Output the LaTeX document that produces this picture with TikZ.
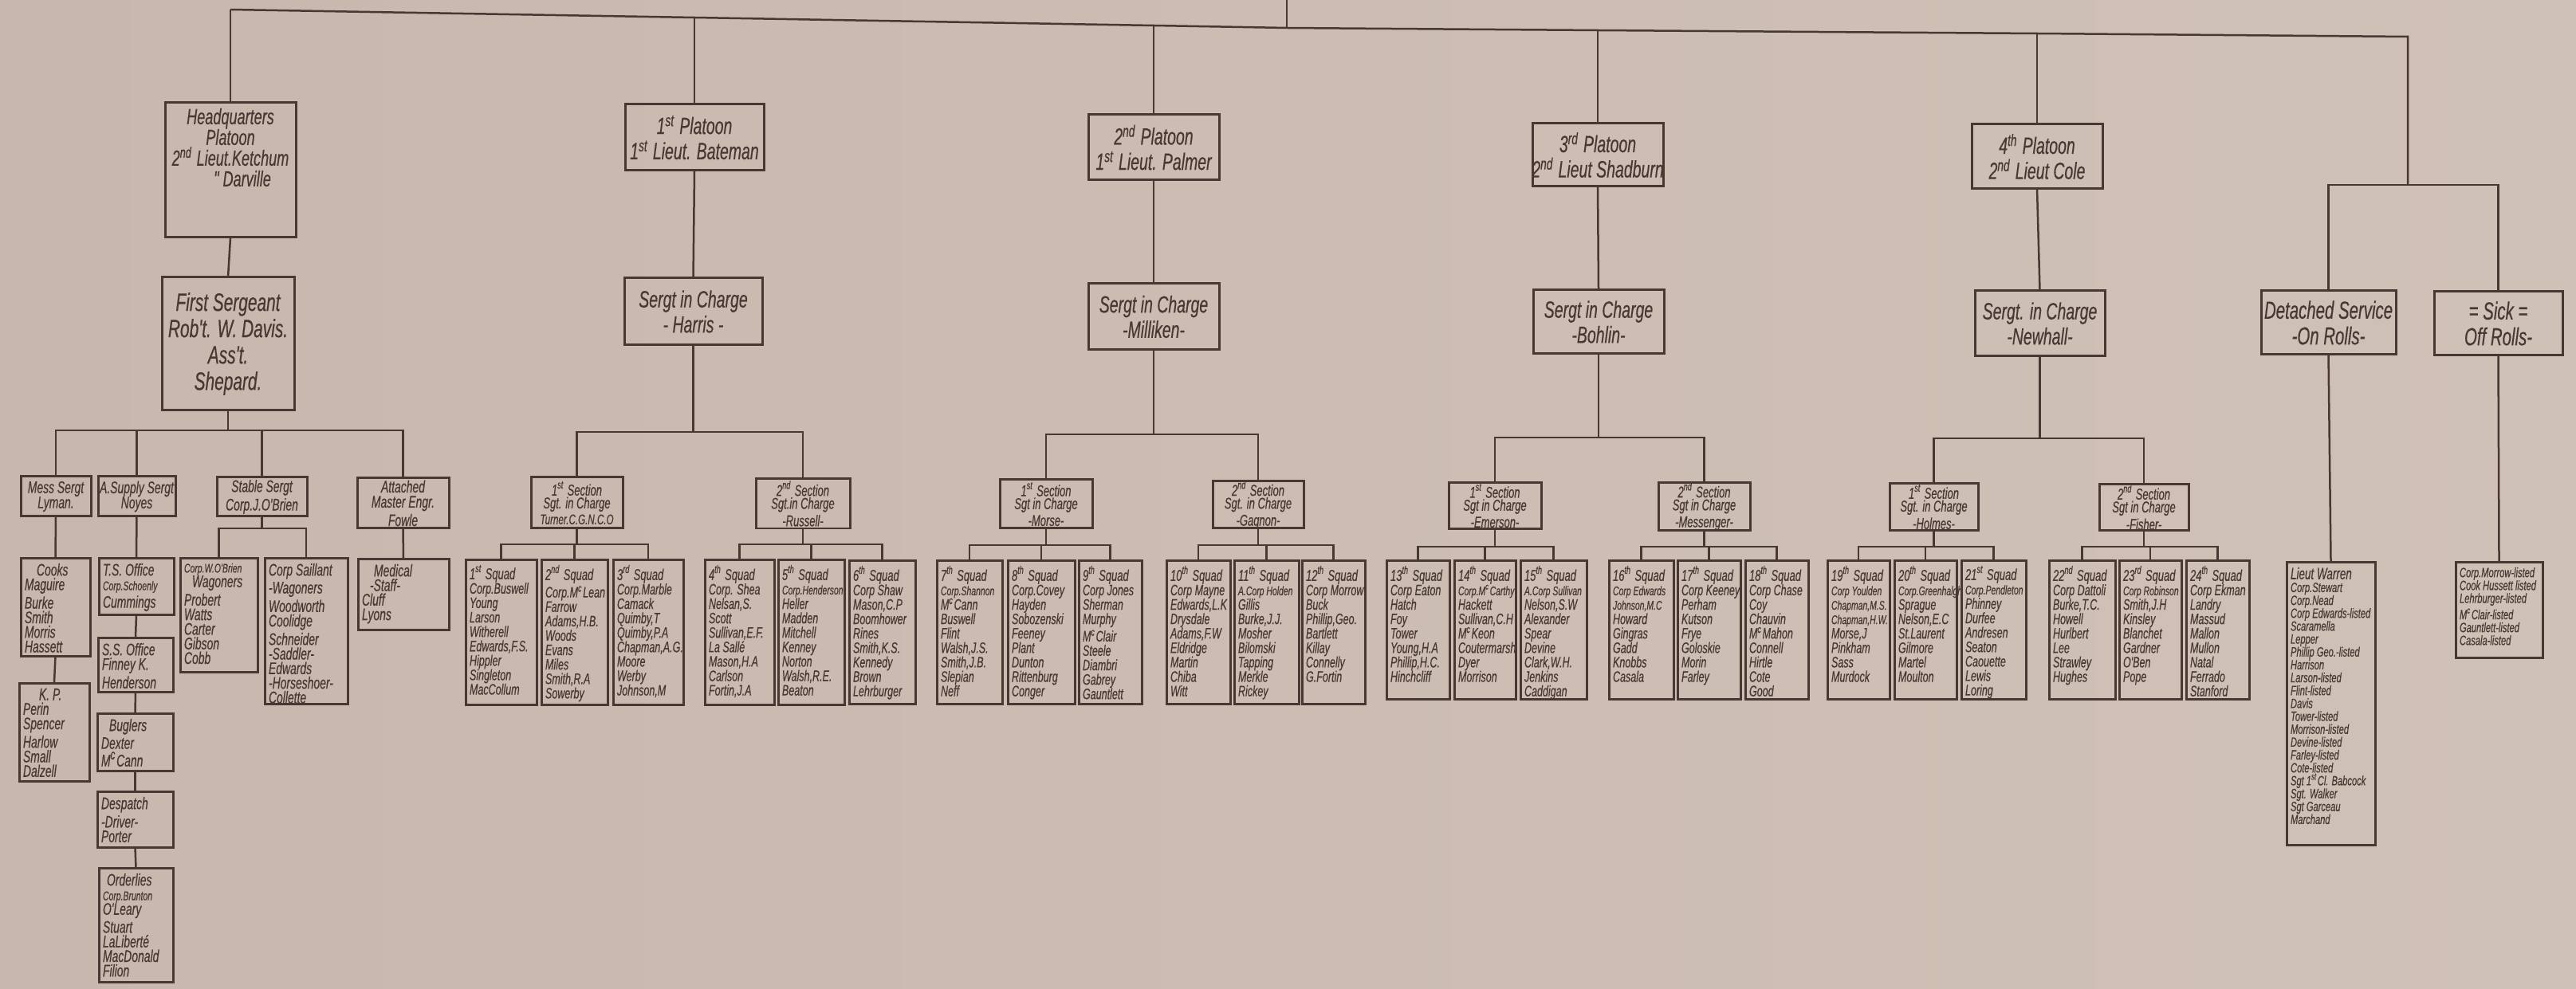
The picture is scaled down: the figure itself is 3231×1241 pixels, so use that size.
\documentclass[tikz,border=0pt]{standalone}
\usepackage{fontspec}
\newfontfamily\handfont{Liberation Sans}[FakeStretch=0.66, FakeBold=0.4]
\definecolor{ink}{RGB}{72,56,52}
\definecolor{paperL}{RGB}{200,183,172}
\definecolor{paperM}{RGB}{217,206,195}
\definecolor{paperR}{RGB}{208,193,182}
\setlength{\lineskiplimit}{-4pt}

% boite a texte centre / boite a liste (coin haut gauche, coin bas droit en px)
\newcommand{\headbox}[7][]{%
  \pgfmathsetmacro{\bw}{(#5-#3)/10}%
  \pgfmathsetmacro{\bh}{(#6-#4)/10}%
  \node[unit, #1, anchor=north west] (#2) at (#3,#4)
    {\parbox[c][\bh mm][c]{\bw mm}{\centering\leftskip=-1cm plus 1fil\rightskip=-1cm plus 1fil #7\par}};}
\newcommand{\rollbox}[7][]{%
  \pgfmathsetmacro{\bw}{(#5-#3)/10}%
  \pgfmathsetmacro{\bh}{(#6-#4)/10}%
  \node[unit, #1, anchor=north west] (#2) at (#3,#4)
    {\parbox[c][\bh mm][t]{\bw mm}{\raggedright\leftskip=0.5mm\rightskip=-1cm plus 1fil\vspace{0.7mm}#7\par}};}
\newcommand{\squeeze}[1]{{\fontsize{4.5}{4}\selectfont #1}}
\newcommand{\sqd}[2]{\mbox{\fontsize{5.6}{5}\selectfont #1\textsuperscript{#2} Squad}}

\begin{document}
\begin{tikzpicture}[x=0.1mm, y=-0.1mm,
  unit/.style={draw=ink, line width=0.3mm, inner sep=0pt, outer sep=0pt, text=ink},
  link/.style={draw=ink, line width=0.25mm},
  hqf/.style={font=\handfont\itshape\fontsize{7.8}{7.4}\selectfont},
  fsf/.style={font=\handfont\itshape\fontsize{9}{9.4}\selectfont},
  rowf/.style={font=\handfont\itshape\fontsize{6}{5.4}\selectfont},
  lf/.style={font=\handfont\itshape\fontsize{6}{5.2}\selectfont},
  platf/.style={font=\handfont\itshape\fontsize{8.4}{9}\selectfont},
  secf/.style={font=\handfont\itshape\fontsize{5.6}{4.6}\selectfont},
  squadf/.style={font=\handfont\itshape\fontsize{5.4}{5.15}\selectfont},
  bigf/.style={font=\handfont\itshape\fontsize{8.8}{9.2}\selectfont},
  listf/.style={font=\handfont\itshape\fontsize{4.8}{4.6}\selectfont}]

\useasboundingbox (0,0) rectangle (3231,1241);
\shade[left color=paperL, middle color=paperM, right color=paperR] (0,0) rectangle (3231,1241);

% Headquarters
\rollbox[hqf]{hq}{207}{129}{371}{298}{\centering Headquarters\\Platoon\\2\textsuperscript{nd} Lieut.Ketchum\\\hspace*{3mm}" Darville}
\headbox[fsf]{fs}{203}{348}{369}{515}{First Sergeant\\Rob't. W. Davis.\\Ass't.\\Shepard.}
\headbox[rowf]{mess}{26}{598}{114}{648}{Mess Sergt\\Lyman.}
\headbox[rowf]{supply}{123}{598}{220}{648}{A.Supply Sergt\\Noyes}
\headbox[rowf]{stable}{272}{599}{385}{648}{Stable Sergt\\Corp.J.O'Brien}
\headbox[rowf]{attached}{448}{600}{563}{663}{Attached\\Master Engr.\\Fowle}
\rollbox[lf]{cooks}{26}{700}{113}{823}{\hspace*{1.5mm}Cooks\\Maguire\\Burke\\Smith\\Morris\\Hassett}
\rollbox[lf]{kp}{24}{857}{112}{980}{\hspace*{2mm}K. P.\\Perin\\Spencer\\Harlow\\Small\\Dalzell}
\rollbox[lf]{tso}{124}{700}{218}{771}{T.S. Office\\\squeeze{Corp.Schoenly}\\Cummings}
\rollbox[lf]{sso}{123}{800}{217}{868}{S.S. Office\\Finney K.\\Henderson}
\rollbox[lf]{bugl}{122}{895}{217}{967}{\hspace*{1mm}Buglers\\Dexter\\M\textsuperscript{c}Cann}
\rollbox[lf]{desp}{122}{993}{217}{1063}{Despatch\\-Driver-\\Porter}
\rollbox[lf]{ord}{124}{1089}{217}{1232}{\hspace*{0.5mm}Orderlies\\\squeeze{Corp.Brunton}\\O'Leary\\Stuart\\LaLiberté\\MacDonald\\Filion}
\rollbox[lf]{wob}{226}{700}{323}{843}{\squeeze{Corp.W.O'Brien}\\\hspace*{1mm}Wagoners\\Probert\\Watts\\Carter\\Gibson\\Cobb}
\rollbox[lf]{sai}{332}{700}{436}{883}{Corp Saillant\\-Wagoners\\Woodworth\\Coolidge\\Schneider\\-Saddler-\\Edwards\\-Horseshoer-\\Collette}
\rollbox[lf]{med}{449}{701}{563}{790}{\hspace*{1.5mm}Medical\\\hspace*{1mm}-Staff-\\Cluff\\Lyons}

% Platoons
\headbox[platf]{pl1}{784}{131}{958}{214}{1\textsuperscript{st} Platoon\\1\textsuperscript{st} Lieut. Bateman}
\headbox[platf]{pl2}{1365}{144}{1529}{226}{2\textsuperscript{nd} Platoon\\1\textsuperscript{st} Lieut. Palmer}
\headbox[platf]{pl3}{1922}{155}{2086}{234}{3\textsuperscript{rd} Platoon\\2\textsuperscript{nd} Lieut Shadburn}
\headbox[platf]{pl4}{2473}{156}{2637}{237}{4\textsuperscript{th} Platoon\\2\textsuperscript{nd} Lieut Cole}
\headbox[platf]{sg1}{783}{349}{956}{433}{Sergt in Charge\\- Harris -}
\headbox[platf]{sg2}{1365}{356}{1529}{439}{Sergt in Charge\\-Milliken-}
\headbox[platf]{sg3}{1923}{364}{2087}{444}{Sergt in Charge\\-Bohlin-}
\headbox[platf]{sg4}{2477}{365}{2640}{447}{Sergt. in Charge\\-Newhall-}

% Sections
\headbox[secf]{sec1}{666}{599}{781}{663}{1\textsuperscript{st} Section\\Sgt. in Charge\\{\fontsize{5}{4.6}\selectfont Turner.C.G.N.C.O}}
\headbox[secf]{sec2}{948}{601}{1066}{663}{2\textsuperscript{nd} Section\\Sgt.in Charge\\-Russell-}
\headbox[secf]{sec3}{1254}{602}{1370}{663}{1\textsuperscript{st} Section\\Sgt in Charge\\-Morse-}
\headbox[secf]{sec4}{1521}{604}{1635}{663}{2\textsuperscript{nd} Section\\Sgt. in Charge\\-Gagnon-}
\headbox[secf]{sec5}{1817}{606}{1933}{663}{1\textsuperscript{st} Section\\Sgt in Charge\\-Emerson-}
\headbox[secf]{sec6}{2080}{606}{2195}{665}{2\textsuperscript{nd} Section\\Sgt in Charge\\-Messenger-}
\headbox[secf]{sec7}{2370}{607}{2481}{665}{1\textsuperscript{st} Section\\Sgt. in Charge\\-Holmes-}
\headbox[secf]{sec8}{2633}{608}{2745}{665}{2\textsuperscript{nd} Section\\Sgt in Charge\\-Fisher-}

% Squads
\rollbox[squadf]{sq1}{584}{702}{673}{884}{\sqd{1}{st}\\Corp.Buswell\\Young\\Larson\\Witherell\\Edwards,F.S.\\Hippler\\Singleton\\MacCollum}
\rollbox[squadf]{sq2}{679}{702}{762}{884}{\sqd{2}{nd}\\Corp.M\textsuperscript{c}Lean\\Farrow\\Adams,H.B.\\Woods\\Evans\\Miles\\Smith,R.A\\Sowerby}
\rollbox[squadf]{sq3}{769}{702}{857}{884}{\sqd{3}{rd}\\Corp.Marble\\Camack\\Quimby,T\\Quimby,P.A\\Chapman,A.G.\\Moore\\Werby\\Johnson,M}
\rollbox[squadf]{sq4}{884}{702}{971}{884}{\sqd{4}{th}\\Corp. Shea\\Nelsan,S.\\Scott\\Sullivan,E.F.\\La Sallé\\Mason,H.A\\Carlson\\Fortin,J.A}
\rollbox[squadf]{sq5}{976}{702}{1059}{884}{\sqd{5}{th}\\\squeeze{Corp.Henderson}\\Heller\\Madden\\Mitchell\\Kenney\\Norton\\Walsh,R.E.\\Beaton}
\rollbox[squadf]{sq6}{1065}{703}{1148}{883}{\sqd{6}{th}\\Corp Shaw\\Mason,C.P\\Boomhower\\Rines\\Smith,K.S.\\Kennedy\\Brown\\Lehrburger}
\rollbox[squadf]{sq7}{1175}{703}{1257}{883}{\sqd{7}{th}\\\squeeze{Corp.Shannon}\\M\textsuperscript{c}Cann\\Buswell\\Flint\\Walsh,J.S.\\Smith,J.B.\\Slepian\\Neff}
\rollbox[squadf]{sq8}{1264}{703}{1348}{883}{\sqd{8}{th}\\Corp.Covey\\Hayden\\Sobozenski\\Feeney\\Plant\\Dunton\\Rittenburg\\Conger}
\rollbox[squadf]{sq9}{1353}{703}{1432}{883}{\sqd{9}{th}\\Corp Jones\\Sherman\\Murphy\\M\textsuperscript{c}Clair\\Steele\\Diambri\\Gabrey\\Gauntlett}
\rollbox[squadf]{sq10}{1463}{703}{1543}{883}{\sqd{10}{th}\\Corp Mayne\\Edwards,L.K\\Drysdale\\Adams,F.W\\Eldridge\\Martin\\Chiba\\Witt}
\rollbox[squadf]{sq11}{1548}{703}{1629}{883}{\sqd{11}{th}\\\squeeze{A.Corp Holden}\\Gillis\\Burke,J.J.\\Mosher\\Bilomski\\Tapping\\Merkle\\Rickey}
\rollbox[squadf]{sq12}{1633}{703}{1712}{883}{\sqd{12}{th}\\Corp Morrow\\Buck\\Phillip,Geo.\\Bartlett\\Killay\\Connelly\\G.Fortin}
\rollbox[squadf]{sq13}{1739}{703}{1818}{877}{\sqd{13}{th}\\Corp Eaton\\Hatch\\Foy\\Tower\\Young,H.A\\Phillip,H.C.\\Hinchcliff}
\rollbox[squadf]{sq14}{1824}{703}{1901}{877}{\sqd{14}{th}\\\squeeze{Corp.M\textsuperscript{c}Carthy}\\Hackett\\Sullivan,C.H\\M\textsuperscript{c}Keon\\Coutermarsh\\Dyer\\Morrison}
\rollbox[squadf]{sq15}{1907}{703}{1990}{877}{\sqd{15}{th}\\\squeeze{A.Corp Sullivan}\\Nelson,S.W\\Alexander\\Spear\\Devine\\Clark,W.H.\\Jenkins\\Caddigan}
\rollbox[squadf]{sq16}{2018}{703}{2099}{877}{\sqd{16}{th}\\\squeeze{Corp Edwards}\\\squeeze{Johnson,M.C}\\Howard\\Gingras\\Gadd\\Knobbs\\Casala}
\rollbox[squadf]{sq17}{2104}{703}{2183}{877}{\sqd{17}{th}\\Corp Keeney\\Perham\\Kutson\\Frye\\Goloskie\\Morin\\Farley}
\rollbox[squadf]{sq18}{2189}{703}{2268}{877}{\sqd{18}{th}\\Corp Chase\\Coy\\Chauvin\\M\textsuperscript{c}Mahon\\Connell\\Hirtle\\Cote\\Good}
\rollbox[squadf]{sq19}{2292}{703}{2370}{877}{\sqd{19}{th}\\\squeeze{Corp Youlden}\\\squeeze{Chapman,M.S.}\\\squeeze{Chapman,H.W.}\\Morse,J\\Pinkham\\Sass\\Murdock}
\rollbox[squadf]{sq20}{2376}{703}{2454}{877}{\sqd{20}{th}\\\squeeze{Corp.Greenhalgh}\\Sprague\\Nelson,E.C\\St.Laurent\\Gilmore\\Martel\\Moulton}
\rollbox[squadf]{sq21}{2460}{703}{2541}{877}{\sqd{21}{st}\\\squeeze{Corp.Pendleton}\\Phinney\\Durfee\\Andresen\\Seaton\\Caouette\\Lewis\\Loring}
\rollbox[squadf]{sq22}{2570}{703}{2653}{877}{\sqd{22}{nd}\\Corp Dattoli\\Burke,T.C.\\Howell\\Hurlbert\\Lee\\Strawley\\Hughes}
\rollbox[squadf]{sq23}{2658}{703}{2736}{877}{\sqd{23}{rd}\\\squeeze{Corp Robinson}\\Smith,J.H\\Kinsley\\Blanchet\\Gardner\\O'Ben\\Pope}
\rollbox[squadf]{sq24}{2742}{703}{2821}{877}{\sqd{24}{th}\\Corp Ekman\\Landry\\Massud\\Mallon\\Mullon\\Natal\\Ferrado\\Stanford}

% Detached service / sick
\headbox[bigf]{det}{2836}{365}{3005}{445}{Detached Service\\-On Rolls-}
\headbox[bigf]{sick}{3053}{366}{3214}{446}{= Sick =\\Off Rolls-}
\rollbox[listf]{detlist}{2868}{705}{2979}{1060}{{\fontsize{5.8}{4.6}\selectfont Lieut Warren}\\Corp.Stewart\\Corp.Nead\\Corp Edwards-listed\\Scaramella\\Lepper\\Phillip Geo.-listed\\Harrison\\Larson-listed\\Flint-listed\\Davis\\Tower-listed\\Morrison-listed\\Devine-listed\\Farley-listed\\Cote-listed\\Sgt 1\textsuperscript{st}Cl. Babcock\\Sgt. Walker\\Sgt Garceau\\Marchand}
\rollbox[listf]{sicklist}{3080}{705}{3189}{825}{Corp.Morrow-listed\\Cook Hussett listed\\Lehrburger-listed\\M\textsuperscript{c}Clair-listed\\Gauntlett-listed\\Casala-listed}

% Liaisons
\draw[link] (hq.north) -- ++(0,-117) coordinate (b0);
\foreach \k/\u in {1/109,2/112,3/117,4/114}
  \draw[link] (pl\k.north) -- ++(0,-\u) coordinate (b\k);
\coordinate (stem) at (1614,35);
\coordinate (top) at (1614,0);
\coordinate (bend) at (3020,46);
\coordinate (split) at (3020,232);
\draw[link] (b0) -- (b1) -- (b2) -- (stem) -- (b3) -- (b4) -- (bend) -- (split);
\draw[link] (stem) -- (top);
\draw[link] (det.north) |- (split) -| (sick.north);

\foreach \c in {mess,supply,stable,attached}
  \draw[link] (fs.south) -- ++(0,25) -| (\c.north);
\foreach \c in {wob,sai}
  \draw[link] (stable.south) -- ++(0,15) -| (\c.north);
\foreach \a/\b in {hq/fs, mess/cooks, cooks/kp, supply/tso, tso/sso, sso/bugl, bugl/desp, desp/ord, attached/med, det/detlist, sick/sicklist}
  \draw[link] (\a.south) -- (\b.north);

\foreach \k/\h in {1/109,2/106,3/105,4/103} {
  \draw[link] (pl\k.south) -- (sg\k.north);
  \foreach \j in {1,0} {
    \pgfmathtruncatemacro{\s}{2*\k-\j}
    \draw[link] (sg\k.south) -- ++(0,\h) -| (sec\s.north);
  }
}
\foreach \k/\h in {1/20,2/20,3/21,4/21,5/23,6/21,7/21,8/21}
  \foreach \j in {2,1,0} {
    \pgfmathtruncatemacro{\q}{3*\k-\j}
    \draw[link] (sec\k.south) -- ++(0,\h) -| (sq\q.north);
  }

\end{tikzpicture}
\end{document}
